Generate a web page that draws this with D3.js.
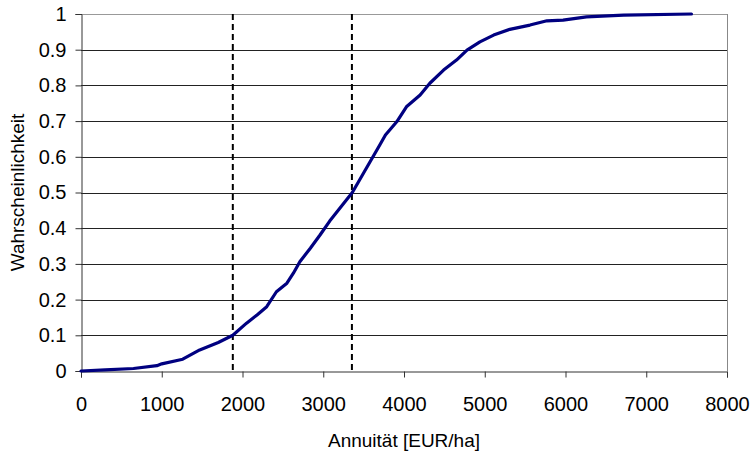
<!DOCTYPE html>
<html>
<head>
<meta charset="utf-8">
<script src="https://cdn.jsdelivr.net/npm/d3@7"></script>
<style>
  body { margin: 0; background: #fff; }
  text { font-family: "Liberation Sans", Arial, sans-serif; fill: #000; }
</style>
</head>
<body>
<script>
// values
var annuitaet = [0, 300, 650, 940, 1000, 1260, 1470, 1700, 1880, 2050, 2180, 2300, 2420, 2550,
  2630, 2710, 2840, 2960, 3080, 3360, 3580, 3700, 3770, 3910, 4030, 4200, 4320, 4490, 4650,
  4780, 4940, 5110, 5310, 5560, 5770, 5970, 6260, 6720, 7560];
var wahrscheinlichkeit = [0, 0.003, 0.007, 0.015, 0.02, 0.033, 0.059, 0.08, 0.1, 0.134, 0.157,
  0.18, 0.222, 0.246, 0.274, 0.306, 0.344, 0.381, 0.42, 0.5, 0.586, 0.633, 0.661, 0.698, 0.74,
  0.773, 0.806, 0.843, 0.871, 0.899, 0.922, 0.941, 0.957, 0.969, 0.981, 0.983, 0.992, 0.997, 1.0];
var markierungen = [1880, 3355];
var xTicks = [0, 1000, 2000, 3000, 4000, 5000, 6000, 7000, 8000];
var yTicks = [0, 0.1, 0.2, 0.3, 0.4, 0.5, 0.6, 0.7, 0.8, 0.9, 1];

var width = 751, height = 452;
var margin = {top: 14, right: 24, bottom: 81, left: 81};

var svg = d3.select('body')
            .append('svg')
            .attr('width', width)
            .attr('height', height);

var x = d3.scaleLinear().domain([0, 8000]).range([margin.left, width - margin.right]);
var y = d3.scaleLinear().domain([0, 1]).range([height - margin.bottom, margin.top]);

// gridlines
svg.append('g')
   .selectAll('line')
   .data(yTicks.slice(1))
   .enter()
     .append('line')
     .attr('x1', x(0))
     .attr('x2', x(8000))
     .attr('y1', function(d) { return Math.round(y(d)) + 0.5; })
     .attr('y2', function(d) { return Math.round(y(d)) + 0.5; })
     .attr('stroke', function(d) { return d === 1 ? '#999' : '#222'; })
     .attr('stroke-width', 1);

// right border
svg.append('line')
   .attr('x1', Math.round(x(8000)) + 0.5).attr('x2', Math.round(x(8000)) + 0.5)
   .attr('y1', y(1)).attr('y2', y(0))
   .attr('stroke', '#888');

// dashed marker lines
svg.append('g')
   .selectAll('line')
   .data(markierungen)
   .enter()
     .append('line')
     .attr('x1', function(d) { return x(d); })
     .attr('x2', function(d) { return x(d); })
     .attr('y1', y(1))
     .attr('y2', y(0) + 2)
     .attr('stroke', '#000')
     .attr('stroke-width', 2)
     .attr('stroke-dasharray', '6,4');

// axes
var xAxis = svg.append('g')
   .attr('transform', 'translate(0,' + (Math.round(y(0)) + 0.5) + ')')
   .call(d3.axisBottom(x).tickValues(xTicks).tickSize(6).tickPadding(19).tickFormat(d3.format('d')));

var yAxis = svg.append('g')
   .attr('transform', 'translate(' + (Math.round(x(0)) + 0.5) + ',0)')
   .call(d3.axisLeft(y).tickValues(yTicks).tickSize(6).tickPadding(9)
     .tickFormat(function(d) { return d === 0 || d === 1 ? d3.format('d')(d) : d3.format('.1f')(d); }));

[xAxis, yAxis].forEach(function(a) {
  a.select('.domain').attr('stroke', '#333');
  a.selectAll('.tick line').attr('stroke', '#333');
  a.selectAll('text').style('font-size', '20px').attr('fill', '#000');
});

// curve
var line = d3.line()
             .x(function(d) { return x(d[0]); })
             .y(function(d) { return y(d[1]); });

svg.append('path')
   .datum(d3.zip(annuitaet, wahrscheinlichkeit))
   .attr('d', line)
   .attr('fill', 'none')
   .attr('stroke', '#000080')
   .attr('stroke-width', 3.2)
   .attr('stroke-linejoin', 'round')
   .attr('stroke-linecap', 'round');

// axis titles
svg.append('text')
   .attr('x', (x(0) + x(8000)) / 2)
   .attr('y', 447)
   .attr('text-anchor', 'middle')
   .style('font-size', '19px')
   .text('Annuität [EUR/ha]');

svg.append('text')
   .attr('transform', 'translate(24,' + ((y(0) + y(1)) / 2) + ') rotate(-90)')
   .attr('text-anchor', 'middle')
   .style('font-size', '19px')
   .text('Wahrscheinlichkeit');
</script>
</body>
</html>
